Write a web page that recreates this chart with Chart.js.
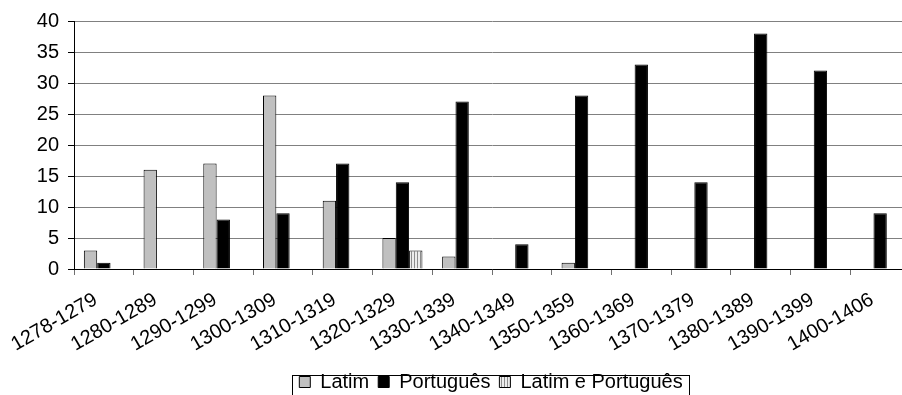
<!DOCTYPE html>
<html lang="pt">
<head>
<meta charset="utf-8">
<title>Documentos por década</title>
<style>
  html, body { margin: 0; padding: 0; background: #fff; overflow: hidden; }
  #wrap { width: 902px; height: 395px; overflow: hidden; }
</style>
</head>
<body>
<div id="wrap">
  <canvas id="myChart" width="910" height="395"></canvas>
</div>
<script src="https://cdn.jsdelivr.net/npm/chart.js"></script>
<script>
    var decadas = ['1278-1279', '1280-1289', '1290-1299', '1300-1309', '1310-1319', '1320-1329', '1330-1339',
        '1340-1349', '1350-1359', '1360-1369', '1370-1379', '1380-1389', '1390-1399', '1400-1406'];
    var latim = [3, 16, 17, 28, 11, 5, 2, null, 1, null, null, null, null, null];
    var portugues = [1, null, 8, 9, 17, 14, 27, 4, 28, 33, 14, 38, 32, 9];
    var latimEPortugues = [null, null, null, null, null, 3, null, null, null, null, null, null, null, null];
    var yTicks = [0, 5, 10, 15, 20, 25, 30, 35, 40];

    // striped fill for "Latim e Português"
    var pc = document.createElement('canvas');
    pc.width = 3; pc.height = 3;
    var pctx = pc.getContext('2d');
    pctx.fillStyle = '#ececec';
    pctx.fillRect(0, 0, 3, 3);
    pctx.fillStyle = '#8c8c8c';
    pctx.fillRect(0, 0, 1, 3);
    var ctx = document.getElementById('myChart').getContext('2d');
    var stripes = ctx.createPattern(pc, 'repeat');

    Chart.defaults.font.family = '"Liberation Sans", Arial, sans-serif';
    Chart.defaults.color = '#000';

    // legend is centred under the plot area in the original, and boxed
    var legendBox = {
        id: 'legendBox',
        afterLayout: function (chart) {
            var lg = chart.legend;
            var shift = Math.round(491 - (lg.left + lg.right) / 2);
            lg.left += shift; lg.right += shift;
            lg.top += 7; lg.bottom += 7;
            lg.legendHitBoxes.forEach(function (h) { h.left += shift; h.top += 7; });
        },
        beforeDraw: function (chart) {
            // the rotated year labels hang a bit lower and to the left of the tick
            var items = chart.scales.x.getLabelItems();
            if (items._moved) return;
            items.forEach(function (it) {
                it.options.translation[0] -= 8;
                it.options.translation[1] += 9;
            });
            items._moved = true;
        },
        afterDraw: function (chart) {
            var hb = chart.legend.legendHitBoxes;
            if (!hb.length) return;
            var c = chart.ctx;
            var l = hb[0].left - 7, r = hb[hb.length - 1].left + hb[hb.length - 1].width + 7;
            var t = hb[0].top - 4;
            c.save();
            c.strokeStyle = '#000';
            c.lineWidth = 1;
            c.strokeRect(Math.round(l) + 0.5, Math.round(t) + 0.5, Math.round(r - l), 60);
            c.restore();
        }
    };

    var myChart = new Chart(ctx, {
        type: 'bar',
        data: {
            labels: decadas,
            datasets: [{
                label: 'Latim',
                data: latim,
                backgroundColor: '#c0c0c0',
                borderColor: '#000',
                borderWidth: 1
            }, {
                label: 'Português',
                data: portugues,
                backgroundColor: '#000',
                borderColor: '#000',
                borderWidth: 1
            }, {
                label: 'Latim e Português',
                data: latimEPortugues,
                backgroundColor: stripes,
                borderColor: '#000',
                borderWidth: 1
            }]
        },
        plugins: [legendBox],
        options: {
            responsive: false,
            animation: false,
            categoryPercentage: 0.67,
            barPercentage: 1.0,
            layout: { padding: { top: 14, left: 0, right: 0, bottom: 0 } },
            plugins: {
                tooltip: { enabled: false },
                legend: {
                    position: 'bottom',
                    labels: {
                        boxWidth: 11,
                        boxHeight: 11,
                        padding: 9,
                        font: { size: 20 }
                    }
                }
            },
            scales: {
                x: {
                    grid: {
                        drawOnChartArea: false,
                        tickLength: 6,
                        tickColor: '#707070'
                    },
                    border: { color: '#000' },
                    ticks: {
                        autoSkip: false,
                        minRotation: 30,
                        maxRotation: 30,
                        padding: 4,
                        font: { size: 20 }
                    },
                    afterFit: function (scale) { scale.height = 87; }
                },
                y: {
                    min: 0,
                    max: 40,
                    afterBuildTicks: function (scale) {
                        scale.ticks = yTicks.map(function (v) { return { value: v }; });
                    },
                    grid: {
                        color: '#808080',
                        tickLength: 6,
                        tickColor: '#000'
                    },
                    border: { color: '#000' },
                    ticks: {
                        padding: 9,
                        font: { size: 20 }
                    },
                    afterFit: function (scale) { scale.width = 74; }
                }
            }
        }
    });
</script>
</body>
</html>
